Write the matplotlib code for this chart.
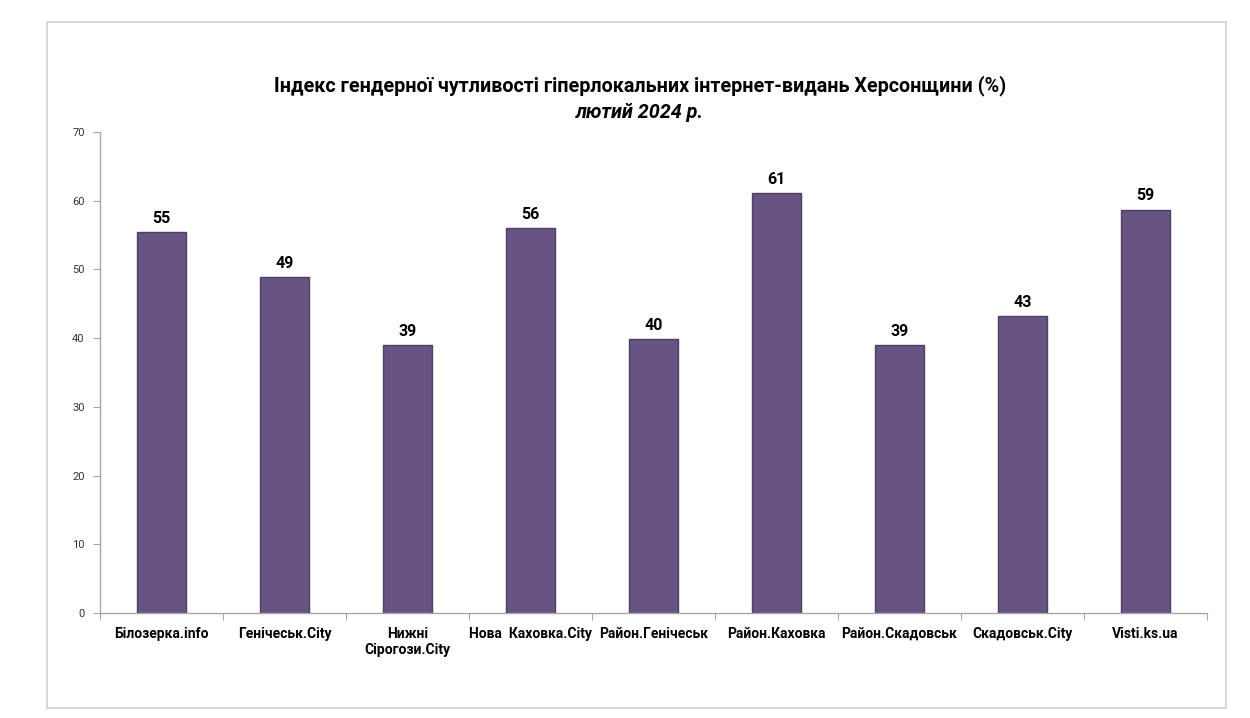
import matplotlib.pyplot as plt
from matplotlib.patches import Rectangle
import numpy as np

plt.rcParams['font.family'] = ['Roboto', 'DejaVu Sans']

# Data
outlets = ["Білозерка.info", "Генічеськ.City", "Нижні\nСірогози.City",
           "Нова  Каховка.City", "Район.Генічеськ", "Район.Каховка",
           "Район.Скадовськ", "Скадовськ.City", "Visti.ks.ua"]
index_values = [55.4, 48.9, 39.0, 56.0, 39.9, 61.1, 39.0, 43.2, 58.7]
y_ticks = [0, 10, 20, 30, 40, 50, 60, 70]

bar_color = "#675482"
edge_color = "#4e3f66"

fig = plt.figure(figsize=(12.5, 7.18), dpi=100)

# outer chart frame
fig.patches.append(Rectangle((0.0376, 0.0139), 0.9432, 0.9555,
                             transform=fig.transFigure, fill=False,
                             edgecolor="#d0d0d0", linewidth=1.2))

ax = fig.add_axes([0.08, 0.1462, 0.8856, 0.67])

x = np.arange(len(outlets))
ax.bar(x, index_values, width=0.4, color=bar_color, edgecolor=edge_color, linewidth=1)

for xi, v in zip(x, index_values):
    ax.text(xi, v + 0.9, f"{round(v)}", ha="center", va="bottom",
            fontsize=11.5, fontweight="bold", color="black")

ax.set_xlim(-0.5, len(outlets) - 0.5)
ax.set_ylim(0, 70)
ax.set_yticks(y_ticks)
ax.set_yticklabels([str(t) for t in y_ticks], fontsize=8, color="#333333")

# category labels between boundary ticks
ax.set_xticks(np.arange(-0.5, len(outlets), 1.0))
ax.set_xticklabels([])
ax.set_xticks(x, minor=True)
ax.set_xticklabels(outlets, minor=True, fontsize=10, fontweight="bold")
ax.tick_params(axis="x", which="minor", length=0, pad=10)
ax.tick_params(axis="x", which="major", length=5, color="#a6a6a6", direction="out")
ax.tick_params(axis="y", length=5, color="#a6a6a6", direction="out", pad=6)

for side in ["top", "right"]:
    ax.spines[side].set_visible(False)
for side in ["left", "bottom"]:
    ax.spines[side].set_color("#a6a6a6")
    ax.spines[side].set_linewidth(1)

fig.text(0.512, 0.881, "Індекс гендерної чутливості гіперлокальних інтернет-видань Херсонщини (%)",
         ha="center", va="center", fontsize=14.2, fontweight="bold")
fig.text(0.512, 0.843, "лютий 2024 р.", ha="center", va="center",
         fontsize=14.2, fontweight="bold", style="italic")

fig.savefig("out.png", dpi=100, facecolor="white")
